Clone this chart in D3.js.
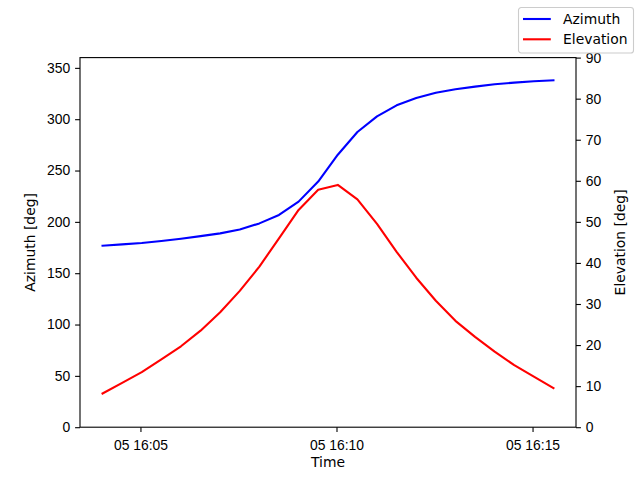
<!DOCTYPE html>
<html>
<head>
<meta charset="utf-8">
<script src="https://cdn.jsdelivr.net/npm/d3@7"></script>
<style>
  body { margin: 0; background: #fff; }
  svg { font-family: 'DejaVu Sans', sans-serif; }
  .axis text { font-size: 13.9px; fill: #000; }
  .axis path, .axis line { stroke: #000; stroke-width: 1.1px; }
  .axis-label { font-size: 13.9px; fill: #000; }
  .legend-text { font-size: 13.9px; fill: #000; }
</style>
</head>
<body>
<div id="chart"></div>
<script>
// sample times (day 05), azimuth and elevation in degrees
const times = [
  '16:04:02', '16:04:32', '16:05:02', '16:05:32', '16:06:02', '16:06:32',
  '16:07:02', '16:07:32', '16:08:02', '16:08:32', '16:09:02', '16:09:32',
  '16:10:02', '16:10:32', '16:11:02', '16:11:32', '16:12:02', '16:12:32',
  '16:13:02', '16:13:32', '16:14:02', '16:14:32', '16:15:02', '16:15:32'
]
const azimuth = [
  176.8, 178.1, 179.4, 181.3, 183.5, 186.1, 188.8, 192.6, 198.5, 206.7, 219.7, 239.3,
  265.4, 287.5, 302.8, 313.5, 320.6, 325.8, 329.1, 331.7, 334.0, 335.6, 336.9, 337.9
]
const elevation = [
  8.2, 10.8, 13.4, 16.5, 19.7, 23.5, 28.0, 33.2, 39.1, 46.0, 52.9, 57.8,
  59.0, 55.5, 49.5, 42.7, 36.4, 30.8, 25.9, 22.0, 18.4, 15.1, 12.3, 9.5
]
const azTicks = [0, 50, 100, 150, 200, 250, 300, 350]
const elTicks = [0, 10, 20, 30, 40, 50, 60, 70, 80, 90]

const layout = { width: 496, height: 369.6, left: 80, top: 57.6 }

const parse = d3.timeParse('%Y-%m-%d %H:%M:%S')
const data = times.map((t, i) => ({
  t: parse('2024-01-05 ' + t),
  az: azimuth[i],
  el: elevation[i]
}))

const tMin = d3.min(data, d => d.t)
const tMax = d3.max(data, d => d.t)
const pad = (tMax - tMin) * 0.05

const xScale = d3.scaleTime()
  .domain([new Date(+tMin - pad), new Date(+tMax + pad)])
  .range([0, layout.width])
const yAz = d3.scaleLinear().domain([0, 360]).range([layout.height, 0])
const yEl = d3.scaleLinear().domain([0, 90]).range([layout.height, 0])

const svg = d3.select('#chart').append('svg')
  .attr('width', 640)
  .attr('height', 480)

const g = svg.append('g')
  .attr('transform', 'translate(' + layout.left + ',' + layout.top + ')')

// lines
const azLine = d3.line().x(d => xScale(d.t)).y(d => yAz(d.az))
const elLine = d3.line().x(d => xScale(d.t)).y(d => yEl(d.el))

g.append('path')
  .datum(data)
  .attr('d', azLine)
  .attr('fill', 'none')
  .attr('stroke', '#0000ff')
  .attr('stroke-width', 2.1)
  .attr('stroke-linejoin', 'round')
  .attr('stroke-linecap', 'square')

g.append('path')
  .datum(data)
  .attr('d', elLine)
  .attr('fill', 'none')
  .attr('stroke', '#ff0000')
  .attr('stroke-width', 2.1)
  .attr('stroke-linejoin', 'round')
  .attr('stroke-linecap', 'square')

// frame
g.append('rect')
  .attr('width', layout.width)
  .attr('height', layout.height)
  .attr('fill', 'none')
  .attr('stroke', '#000')
  .attr('stroke-width', 1.1)

// axes
const xAxisEl = g.append('g')
  .attr('class', 'axis')
  .attr('transform', 'translate(0,' + layout.height + ')')
  .call(d3.axisBottom(xScale)
    .ticks(d3.timeMinute.every(5))
    .tickFormat(d3.timeFormat('%d %H:%M'))
    .tickSizeInner(4.9).tickSizeOuter(0).tickPadding(4.9))
xAxisEl.select('.domain').remove()
xAxisEl.selectAll('text').attr('dy', '0.95em')

const yAxisL = g.append('g')
  .attr('class', 'axis')
  .call(d3.axisLeft(yAz).tickValues(azTicks).tickSizeInner(4.9).tickSizeOuter(0).tickPadding(4.9))
yAxisL.select('.domain').remove()

const yAxisR = g.append('g')
  .attr('class', 'axis')
  .attr('transform', 'translate(' + layout.width + ',0)')
  .call(d3.axisRight(yEl).tickValues(elTicks).tickSizeInner(4.9).tickSizeOuter(0).tickPadding(4.9))
yAxisR.select('.domain').remove()

// axis labels
g.append('text')
  .attr('class', 'axis-label')
  .attr('x', layout.width / 2)
  .attr('y', layout.height + 40)
  .attr('text-anchor', 'middle')
  .text('Time')

g.append('text')
  .attr('class', 'axis-label')
  .attr('transform', 'rotate(-90)')
  .attr('x', -layout.height / 2)
  .attr('y', -45)
  .attr('text-anchor', 'middle')
  .text('Azimuth [deg]')

g.append('text')
  .attr('class', 'axis-label')
  .attr('transform', 'rotate(-90)')
  .attr('x', -layout.height / 2)
  .attr('y', layout.width + 49)
  .attr('text-anchor', 'middle')
  .text('Elevation [deg]')

// legend
const legendItems = [
  { label: 'Azimuth', color: '#0000ff' },
  { label: 'Elevation', color: '#ff0000' }
]
const legendG = svg.append('g').attr('transform', 'translate(518.5,7.5)')
legendG.append('rect')
  .attr('width', 115)
  .attr('height', 45.5)
  .attr('rx', 2.8)
  .attr('fill', '#fff')
  .attr('fill-opacity', 0.8)
  .attr('stroke', '#cccccc')
  .attr('stroke-width', 1.1)
const items = legendG.selectAll('.legend-item')
  .data(legendItems)
  .enter()
  .append('g')
  .attr('class', 'legend-item')
  .attr('transform', (d, i) => 'translate(0,' + (11.5 + i * 20.3) + ')')
items.append('line')
  .attr('x1', 4.5)
  .attr('x2', 32.3)
  .attr('stroke', d => d.color)
  .attr('stroke-width', 2.1)
items.append('text')
  .attr('class', 'legend-text')
  .attr('x', 44.5)
  .attr('dy', '0.36em')
  .text(d => d.label)
</script>
</body>
</html>
